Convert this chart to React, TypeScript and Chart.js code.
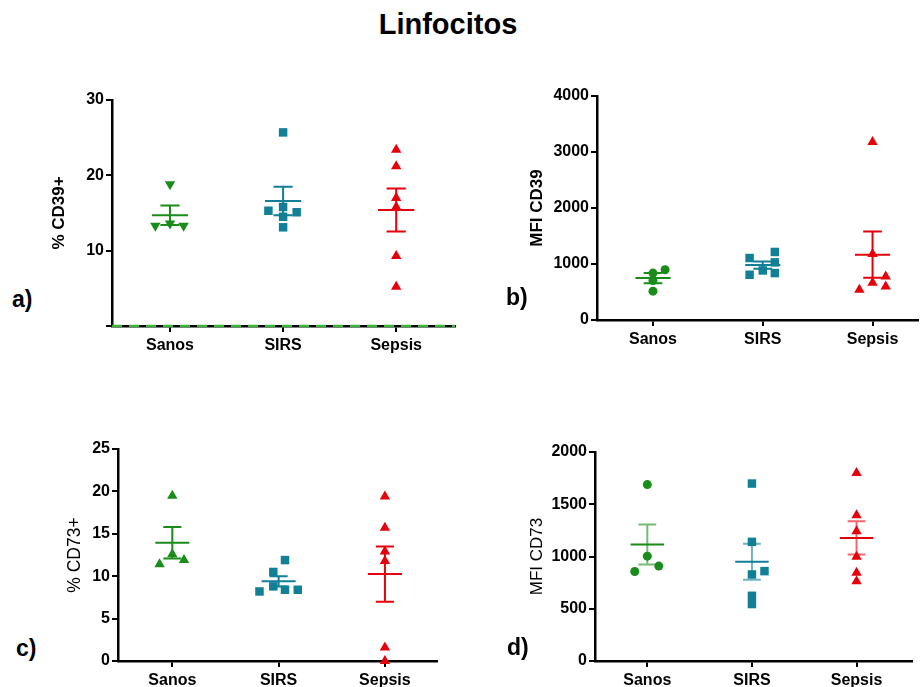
import React, { useEffect, useRef } from 'react';
import { Chart, registerables } from 'chart.js';

Chart.register(...registerables);

const FONT = "Arial, 'Liberation Sans', Helvetica, sans-serif";

// ---------- shared ----------
const categories = ['Sanos', 'SIRS', 'Sepsis'];
const GREEN = '#1a8c1a';
const TEAL = '#117f96';
const RED = '#e6000b';

// ---------- Panel a: % CD39+ ----------
const aSanos = [18.8, 13.3, 13.6, 13.3];
const aSanosJitter = [0, -0.13, 0, 0.12];
const aSirs = [25.7, 15.3, 15.8, 14.5, 15.1, 13.1];
const aSirsJitter = [0, -0.13, 0, 0, 0.12, 0];
const aSepsis = [23.4, 21.2, 17.0, 15.8, 9.3, 5.2];
const aSepsisJitter = [0, 0, 0, 0, 0, 0];
const aMeans = [14.7, 16.6, 15.4];
const aSems = [1.3, 1.9, 2.85];
const aTicks = [0, 10, 20, 30];

// ---------- Panel b: MFI CD39 ----------
const bSanos = [838, 898, 706, 515];
const bSanosJitter = [0, 0.11, 0, 0];
const bSirs = [1107, 1215, 1029, 885, 808, 838];
const bSirsJitter = [-0.12, 0.11, 0.11, 0, -0.12, 0.11];
const bSepsis = [3180, 1180, 777, 665, 598, 539];
const bSepsisJitter = [0, 0, 0.12, 0, 0.12, -0.12];
const bMeans = [748, 981, 1167];
const bSems = [90, 65, 413];
const bTicks = [0, 1000, 2000, 3000, 4000];

// ---------- Panel c: % CD73+ ----------
const cSanos = [19.5, 12.6, 11.4, 11.9];
const cSanosJitter = [0, 0, -0.12, 0.11];
const cSirs = [8.2, 8.8, 10.5, 11.9, 8.4, 8.4];
const cSirsJitter = [-0.18, -0.05, -0.05, 0.06, 0.06, 0.18];
const cSepsis = [19.4, 15.7, 12.9, 11.8, 1.6, 0.0];
const cSepsisJitter = [0, 0, 0, 0, 0, 0];
const cMeans = [13.95, 9.4, 10.25];
const cSems = [1.85, 0.6, 3.25];
const cTicks = [0, 5, 10, 15, 20, 25];

// ---------- Panel d: MFI CD73 ----------
const dSanos = [1688, 1003, 908, 857];
const dSanosJitter = [0, 0, 0.11, -0.12];
const dSirs = [1698, 1140, 828, 860, 624, 545];
const dSirsJitter = [0, 0, 0, 0.12, 0, 0];
const dSepsis = [1799, 1395, 1242, 997, 844, 764];
const dSepsisJitter = [0, 0, 0, 0, 0, 0];
const dMeans = [1115, 950, 1178];
const dSems = [191, 173, 160];
const dTicks = [0, 500, 1000, 1500, 2000];

const MEAN_W = 0.16;
const CAP_W = 0.085;

type Group = { values: number[]; jitter: number[]; color: string; style: string; rotation: number; radius: number };

type PanelCfg = {
  key: string;
  left: number; top: number; width: number; height: number;
  padding: { top: number; right: number; bottom: number; left: number };
  yAxisW: number; xAxisH: number; titlePad: number;
  yTitle: string; titleBold: boolean; titleSize: number;
  xMin: number; xMax: number;
  yTicks: number[]; hideZero: boolean;
  groups: Group[]; means: number[]; sems: number[];
  errAlpha: number;
  baseline: boolean;
};

function withAlpha(hex: string, a: number) {
  const r = parseInt(hex.slice(1, 3), 16), g = parseInt(hex.slice(3, 5), 16), b = parseInt(hex.slice(5, 7), 16);
  return `rgba(${r},${g},${b},${a})`;
}

function groups(s: number[], sj: number[], si: number[], sij: number[], se: number[], sej: number[], sanosStyle: string, sanosRot: number, sanosR: number): Group[] {
  return [
    { values: s, jitter: sj, color: GREEN, style: sanosStyle, rotation: sanosRot, radius: sanosR },
    { values: si, jitter: sij, color: TEAL, style: 'rect', rotation: 0, radius: 6 },
    { values: se, jitter: sej, color: RED, style: 'triangle', rotation: 0, radius: 6 },
  ];
}

const panels: PanelCfg[] = [
  {
    key: 'a', left: 40, top: 85, width: 440, height: 280,
    padding: { top: 15, right: 25, bottom: 9, left: 0 },
    yAxisW: 72, xAxisH: 30, titlePad: 9, yTitle: '% CD39+', titleBold: true, titleSize: 17,
    xMin: 0.487, xMax: 3.52, yTicks: aTicks, hideZero: true,
    groups: groups(aSanos, aSanosJitter, aSirs, aSirsJitter, aSepsis, aSepsisJitter, 'triangle', 180, 6),
    means: aMeans, sems: aSems, errAlpha: 1, baseline: true,
  },
  {
    key: 'b', left: 520, top: 80, width: 404, height: 280,
    padding: { top: 16, right: 0, bottom: 10, left: 0 },
    yAxisW: 77, xAxisH: 30, titlePad: 7, yTitle: 'MFI CD39', titleBold: true, titleSize: 17,
    xMin: 0.49, xMax: 3.414, yTicks: bTicks, hideZero: false,
    groups: groups(bSanos, bSanosJitter, bSirs, bSirsJitter, bSepsis, bSepsisJitter, 'circle', 0, 4.5),
    means: bMeans, sems: bSems, errAlpha: 1, baseline: false,
  },
  {
    key: 'c', left: 50, top: 435, width: 400, height: 252,
    padding: { top: 14, right: 13, bottom: 0, left: 0 },
    yAxisW: 68, xAxisH: 26, titlePad: 15, yTitle: '% CD73+', titleBold: false, titleSize: 17.5,
    xMin: 0.489, xMax: 3.49, yTicks: cTicks, hideZero: false,
    groups: groups(cSanos, cSanosJitter, cSirs, cSirsJitter, cSepsis, cSepsisJitter, 'triangle', 0, 6),
    means: cMeans, sems: cSems, errAlpha: 1, baseline: false,
  },
  {
    key: 'd', left: 520, top: 437, width: 404, height: 250,
    padding: { top: 15, right: 12, bottom: 0, left: 0 },
    yAxisW: 75, xAxisH: 26, titlePad: 7, yTitle: 'MFI CD73', titleBold: false, titleSize: 17,
    xMin: 0.5, xMax: 3.53, yTicks: dTicks, hideZero: false,
    groups: groups(dSanos, dSanosJitter, dSirs, dSirsJitter, dSepsis, dSepsisJitter, 'circle', 0, 4.5),
    means: dMeans, sems: dSems, errAlpha: 0.6, baseline: false,
  },
];

function buildConfig(p: PanelCfg): any {
  const datasets: any[] = [];
  if (p.baseline) {
    datasets.push({
      type: 'line',
      data: [{ x: p.xMin, y: 0 }, { x: p.xMax, y: 0 }],
      borderColor: '#3cb43c', borderWidth: 2.5, borderDash: [10, 7], pointRadius: 0, clip: false, order: 5,
    });
  }
  p.groups.forEach((g, gi) => {
    const cx = gi + 1;
    datasets.push({
      type: 'scatter',
      data: g.values.map((v, i) => ({ x: cx + g.jitter[i], y: v })),
      pointStyle: g.style, rotation: g.rotation, pointRadius: g.radius,
      backgroundColor: g.color, borderColor: g.color, borderWidth: 0, clip: false, order: 2,
    });
    const m = p.means[gi];
    const s = p.sems[gi];
    const gap = { x: cx, y: null };
    datasets.push({
      type: 'line',
      data: [{ x: cx - MEAN_W, y: m }, { x: cx + MEAN_W, y: m }],
      borderColor: g.color, borderWidth: 2, pointRadius: 0, clip: false, order: 1,
    });
    datasets.push({
      type: 'line',
      data: [
        { x: cx - CAP_W, y: m + s }, { x: cx + CAP_W, y: m + s }, gap,
        { x: cx - CAP_W, y: m - s }, { x: cx + CAP_W, y: m - s }, gap,
        { x: cx, y: m + s }, { x: cx, y: m - s },
      ],
      borderColor: withAlpha(g.color, p.errAlpha), borderWidth: 2, pointRadius: 0,
      spanGaps: false, clip: false, order: 1,
    });
  });

  const tickFont = { family: FONT, size: 16, weight: 'bold' as const };
  return {
    type: 'scatter',
    data: { datasets },
    options: {
      animation: false,
      responsive: false,
      events: [],
      layout: { padding: p.padding },
      plugins: { legend: { display: false }, tooltip: { enabled: false }, title: { display: false } },
      scales: {
        x: {
          type: 'linear', min: p.xMin, max: p.xMax,
          afterBuildTicks: (s: any) => { s.ticks = categories.map((_, i) => ({ value: i + 1 })); },
          afterFit: (s: any) => { s.height = p.xAxisH; },
          ticks: {
            callback: (v: number) => categories[Math.round(v) - 1] ?? '',
            font: tickFont, color: '#000', padding: 4, autoSkip: false, maxRotation: 0,
          },
          grid: { display: true, drawOnChartArea: false, drawTicks: true, tickLength: 6, color: '#000', lineWidth: 2 },
          border: { display: true, color: '#000', width: 2.5 },
        },
        y: {
          type: 'linear', min: p.yTicks[0], max: p.yTicks[p.yTicks.length - 1],
          afterBuildTicks: (s: any) => { s.ticks = p.yTicks.map((v) => ({ value: v })); },
          afterFit: (s: any) => { s.width = p.yAxisW; },
          ticks: {
            callback: (v: number) => (p.hideZero && v === 0 ? '' : String(v)),
            font: tickFont, color: '#000', padding: 2,
          },
          grid: { display: true, drawOnChartArea: false, drawTicks: true, tickLength: 6, color: '#000', lineWidth: 2 },
          border: { display: true, color: '#000', width: 2.5 },
          title: {
            display: true, text: p.yTitle, color: '#000',
            font: { family: FONT, size: p.titleSize, weight: p.titleBold ? 'bold' : 'normal' },
            padding: { top: p.titlePad, bottom: 0 },
          },
        },
      },
    },
  };
}

function Panel({ cfg }: { cfg: PanelCfg }) {
  const ref = useRef<HTMLCanvasElement | null>(null);
  useEffect(() => {
    if (!ref.current) return;
    const chart = new Chart(ref.current, buildConfig(cfg));
    return () => chart.destroy();
  }, [cfg]);
  return (
    <canvas
      ref={ref}
      width={cfg.width}
      height={cfg.height}
      style={{ position: 'absolute', left: cfg.left, top: cfg.top, width: cfg.width, height: cfg.height }}
    />
  );
}

const panelLetters = [
  { text: 'a)', left: 12, top: 288 },
  { text: 'b)', left: 506, top: 286 },
  { text: 'c)', left: 16, top: 637 },
  { text: 'd)', left: 507, top: 636 },
];

export default function App() {
  return (
    <div style={{ position: 'absolute', left: 0, top: 0, width: 924, height: 687, background: '#fff', overflow: 'hidden', fontFamily: FONT }}>
      <div style={{ position: 'absolute', left: 448, top: 10, transform: 'translateX(-50%)', fontSize: 29, fontWeight: 'bold', lineHeight: '29px', whiteSpace: 'nowrap', color: '#000' }}>
        Linfocitos
      </div>
      {panels.map((p) => (
        <Panel key={p.key} cfg={p} />
      ))}
      {panelLetters.map((l) => (
        <div key={l.text} style={{ position: 'absolute', left: l.left, top: l.top, fontSize: 23, fontWeight: 'bold', lineHeight: '23px', color: '#000' }}>
          {l.text}
        </div>
      ))}
    </div>
  );
}
